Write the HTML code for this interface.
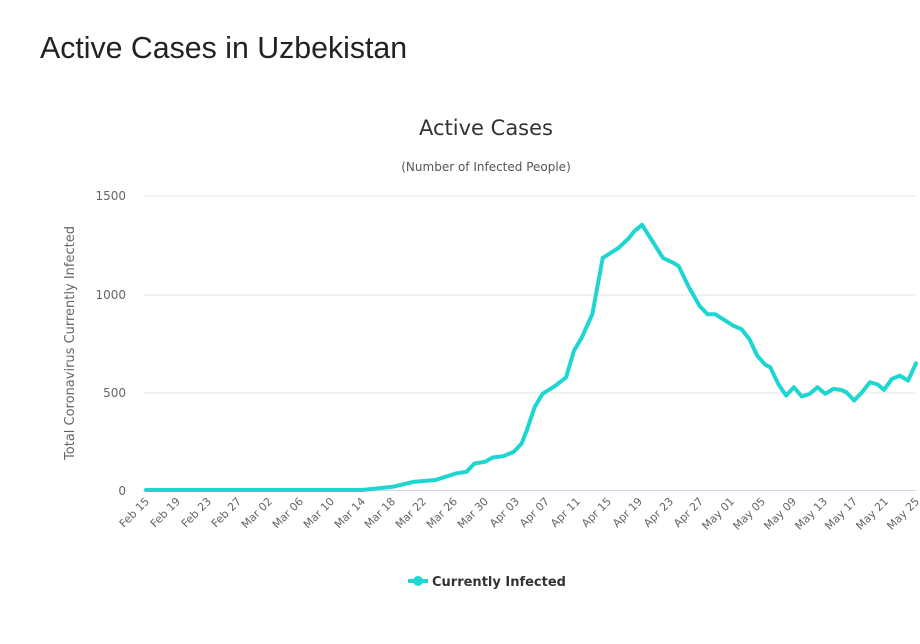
<!DOCTYPE html>
<html><head><meta charset="utf-8"><style>
body{margin:0;width:920px;height:644px;background:#fff;overflow:hidden;font-family:"Liberation Sans",sans-serif}
</style></head><body>
<svg width="920" height="644" xmlns="http://www.w3.org/2000/svg" style="position:absolute;left:0;top:0">
<text x="40" y="58" font-size="30.3" fill="#222" font-family="Liberation Sans, sans-serif">Active Cases in Uzbekistan</text>
<text x="486" y="135" font-size="21" fill="#333" text-anchor="middle" font-family="DejaVu Sans, sans-serif">Active Cases</text>
<text x="486" y="171" font-size="12" fill="#555" text-anchor="middle" font-family="DejaVu Sans, sans-serif">(Number of Infected People)</text>
<g stroke="#e6e6e6" stroke-width="1">
<line x1="143" y1="196" x2="916" y2="196"/>
<line x1="143" y1="295" x2="916" y2="295"/>
<line x1="143" y1="393" x2="916" y2="393"/>
</g>
<line x1="143" y1="490.5" x2="916" y2="490.5" stroke="#ccd6eb" stroke-width="1"/>
<g font-size="12" fill="#666" text-anchor="end" font-family="DejaVu Sans, sans-serif">
<text x="126" y="200">1500</text>
<text x="126" y="299">1000</text>
<text x="126" y="397">500</text>
<text x="126" y="495">0</text>
</g>
<text transform="translate(74,343) rotate(-90)" font-size="13" fill="#666" text-anchor="middle" font-family="DejaVu Sans, sans-serif">Total Coronavirus Currently Infected</text>
<g font-size="11" fill="#666" text-anchor="end" font-family="DejaVu Sans, sans-serif">
<text transform="translate(150,502) rotate(-45)">Feb 15</text>
<text transform="translate(181,502) rotate(-45)">Feb 19</text>
<text transform="translate(212,502) rotate(-45)">Feb 23</text>
<text transform="translate(242,502) rotate(-45)">Feb 27</text>
<text transform="translate(273,502) rotate(-45)">Mar 02</text>
<text transform="translate(304,502) rotate(-45)">Mar 06</text>
<text transform="translate(335,502) rotate(-45)">Mar 10</text>
<text transform="translate(366,502) rotate(-45)">Mar 14</text>
<text transform="translate(396,502) rotate(-45)">Mar 18</text>
<text transform="translate(427,502) rotate(-45)">Mar 22</text>
<text transform="translate(458,502) rotate(-45)">Mar 26</text>
<text transform="translate(489,502) rotate(-45)">Mar 30</text>
<text transform="translate(520,502) rotate(-45)">Apr 03</text>
<text transform="translate(550,502) rotate(-45)">Apr 07</text>
<text transform="translate(581,502) rotate(-45)">Apr 11</text>
<text transform="translate(612,502) rotate(-45)">Apr 15</text>
<text transform="translate(643,502) rotate(-45)">Apr 19</text>
<text transform="translate(674,502) rotate(-45)">Apr 23</text>
<text transform="translate(704,502) rotate(-45)">Apr 27</text>
<text transform="translate(735,502) rotate(-45)">May 01</text>
<text transform="translate(766,502) rotate(-45)">May 05</text>
<text transform="translate(797,502) rotate(-45)">May 09</text>
<text transform="translate(828,502) rotate(-45)">May 13</text>
<text transform="translate(858,502) rotate(-45)">May 17</text>
<text transform="translate(889,502) rotate(-45)">May 21</text>
<text transform="translate(920,502) rotate(-45)">May 25</text>
</g>
<g transform="matrix(0.5238,0,0,0.3315,99.9,181.7)">
<polyline vector-effect="non-scaling-stroke" fill="none" stroke="#1ed6d1" stroke-width="4" stroke-linejoin="round" stroke-linecap="round"
points="88,930 500,930 560,920 600,905 640,900 680,880 700,875 715,850 735,845 750,832 770,828 790,815 805,790 815,750 830,680 845,640 870,615 890,590 905,510 920,470 940,400 960,230 990,200 1010,170 1020,150 1035,130 1055,180 1075,230 1095,245 1105,255 1125,320 1145,375 1160,400 1175,400 1195,420 1210,435 1225,445 1240,475 1255,525 1270,552 1280,560 1295,610 1310,645 1325,620 1340,648 1355,640 1370,620 1385,640 1400,625 1415,628 1425,635 1440,660 1455,635 1470,605 1485,612 1497,628 1512,595 1527,585 1543,600 1558,548"/>
</g>
<line x1="408" y1="581" x2="428" y2="581" stroke="#1ed6d1" stroke-width="4"/>
<circle cx="418" cy="581" r="5" fill="#1ed6d1"/>
<text x="432" y="586" font-size="13" font-weight="bold" fill="#333" font-family="DejaVu Sans, sans-serif">Currently Infected</text>
</svg>
</body></html>
